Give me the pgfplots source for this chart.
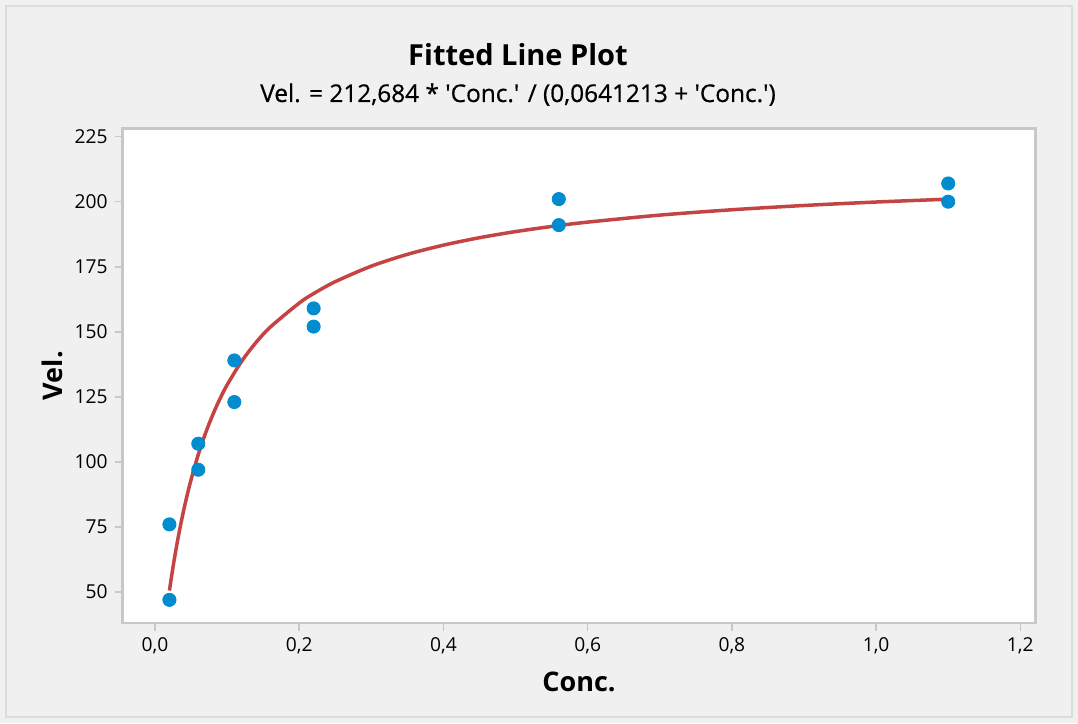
\documentclass[border=0pt]{standalone}
\usepackage{fontspec}
\setmainfont{Open Sans}
\newfontfamily\subfont{Open Sans}[FakeBold=0.6]
\usepackage{pgfplots}
\pgfplotsset{compat=1.18}
\usetikzlibrary{backgrounds}

\definecolor{bgcol}{HTML}{F0F0F0}
\definecolor{framecol}{HTML}{C8C8C8}
\definecolor{edgecol}{HTML}{DCDCDC}
\definecolor{ptcol}{HTML}{008CCE}
\definecolor{fitcol}{HTML}{C44444}

\begin{document}
\begin{tikzpicture}
\begin{axis}[
    scale only axis,
    width=456.3pt, height=247.35pt,
    xmin=-0.0448, xmax=1.2208,
    ymin=38.1, ymax=228.2,
    xtick={0,0.2,...,1.2},
    ytick={50,75,...,225},
    tick align=outside,
    major tick length=4pt,
    tick style={framecol, line width=0.8pt},
    xtick pos=bottom, ytick pos=left,
    axis line style={framecol, line width=1.2pt},
    axis background/.style={fill=white},
    /pgf/number format/assume math mode=true,
    xticklabel style={font=\fontsize{9.6}{11}\selectfont, /pgf/number format/.cd, fixed, fixed zerofill, precision=1, use comma},
    yticklabel style={font=\fontsize{9.6}{11}\selectfont},
    xlabel={Conc.}, ylabel={Vel.},
    label style={font=\fontsize{13.5}{15}\selectfont\bfseries},
    xlabel style={at={(axis description cs:0.5,-0.1375)}, anchor=base},
    ylabel style={at={(axis description cs:-0.0775,0.5)}, anchor=center},
    clip=false,
]
\addplot[fitcol, line width=1.75pt, smooth] coordinates {
    (0.020,50.57) (0.025,59.66) (0.030,67.79) (0.035,75.10) (0.040,81.71)
    (0.045,87.71) (0.050,93.18) (0.060,102.81) (0.070,111.00) (0.080,118.06)
    (0.090,124.20) (0.100,129.59) (0.120,138.61) (0.140,145.87) (0.160,151.83)
    (0.200,161.05) (0.220,164.69) (0.250,169.27) (0.300,175.23) (0.350,179.76)
    (0.400,183.30) (0.450,186.16) (0.500,188.51) (0.550,190.48) (0.600,192.15)
    (0.700,194.84) (0.800,196.90) (0.900,198.54) (1.000,199.87) (1.100,200.97)
};
\addplot[only marks, mark=*, mark size=3.3pt, mark options={fill=ptcol, draw=ptcol}] coordinates {
    (0.02,76) (0.02,47) (0.06,97) (0.06,107) (0.11,123) (0.11,139)
    (0.22,159) (0.22,152) (0.56,191) (0.56,201) (1.10,207) (1.10,200)
};
\end{axis}
\node[anchor=base, font=\fontsize{14.5}{16}\selectfont\bfseries]
    at ([xshift=197.65pt, yshift=31.2pt]current axis.north west) {Fitted Line Plot};
\node[anchor=base, font=\subfont\fontsize{12.2}{14}\selectfont]
    at ([xshift=197.65pt, yshift=13.15pt]current axis.north west)
    {Vel. = 212,684 * \textquotesingle Conc.\textquotesingle{} / (0,0641213 + \textquotesingle Conc.\textquotesingle)};
\begin{scope}[on background layer]
\fill[bgcol] ([xshift=-61.35pt, yshift=-50pt]current axis.south west) rectangle ([xshift=21.35pt, yshift=64.15pt]current axis.north east);
\draw[edgecol, line width=0.8pt] ([xshift=-58.35pt, yshift=-47pt]current axis.south west) rectangle ([xshift=18.35pt, yshift=61.15pt]current axis.north east);
\end{scope}
\end{tikzpicture}
\end{document}
